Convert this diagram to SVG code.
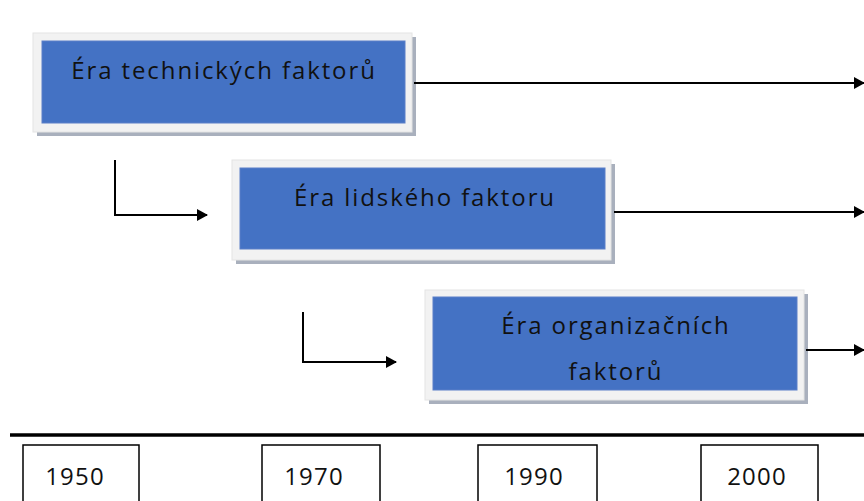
<svg xmlns="http://www.w3.org/2000/svg" width="864" height="501" viewBox="0 0 864 501">
<defs>
<marker id="ah" markerWidth="11" markerHeight="12" refX="10" refY="6" orient="auto" markerUnits="userSpaceOnUse">
<path d="M0,0 L11,6 L0,12 Z" fill="#000"/>
</marker>
<style>
.frame{fill:#f2f2f2;stroke:#e4e4e4;stroke-width:1}
.shadow{fill:#a9b0bd}
.blue{fill:#4472c4;stroke:#5a7fc8;stroke-width:1}
.lbl{font-family:"Open Sans","Noto Sans",sans-serif;font-size:24px;letter-spacing:1.9px;fill:#111;text-anchor:middle}
.yr{font-family:"Open Sans","Noto Sans",sans-serif;font-size:24px;letter-spacing:1.2px;fill:#111;text-anchor:middle}
.conn{fill:none;stroke:#000;stroke-width:2}
.ybox{fill:#fff;stroke:#000;stroke-width:1.5}
</style>
</defs>
<rect width="864" height="501" fill="#fff"/>
<g id="node-tech">
<rect class="shadow" x="37" y="37" width="379" height="99"/>
<rect class="frame" x="33" y="33" width="379" height="99"/>
<rect class="blue" x="42" y="41" width="363" height="82"/>
<text class="lbl" x="224" y="79">Éra technických faktorů</text>
</g>
<g id="node-lidsky">
<rect class="shadow" x="236" y="164" width="379" height="100"/>
<rect class="frame" x="232" y="160" width="379" height="100"/>
<rect class="blue" x="240" y="168" width="365" height="81"/>
<text class="lbl" x="425" y="206">Éra lidského faktoru</text>
</g>
<g id="node-org">
<rect class="shadow" x="429" y="294" width="379" height="110"/>
<rect class="frame" x="425" y="290" width="379" height="110"/>
<rect class="blue" x="433" y="297" width="364" height="93"/>
<text class="lbl" x="616" y="334">Éra organizačních</text>
<text class="lbl" x="616" y="380">faktorů</text>
</g>
<g id="connectors">
<line class="conn" x1="414" y1="83" x2="864" y2="83" marker-end="url(#ah)"/>
<line class="conn" x1="614" y1="212" x2="864" y2="212" marker-end="url(#ah)"/>
<line class="conn" x1="806" y1="350" x2="864" y2="350" marker-end="url(#ah)"/>
<polyline class="conn" points="115,160 115,215 207,215" marker-end="url(#ah)"/>
<polyline class="conn" points="303,312 303,362 396,362" marker-end="url(#ah)"/>
</g>
<g id="timeline">
<line x1="10" y1="435" x2="864" y2="435" stroke="#000" stroke-width="3.5"/>
</g>
<g id="year-1950">
<rect class="ybox" x="23" y="445" width="116" height="70"/>
<text class="yr" x="75" y="485">1950</text>
</g>
<g id="year-1970">
<rect class="ybox" x="262" y="445" width="118" height="70"/>
<text class="yr" x="314" y="485">1970</text>
</g>
<g id="year-1990">
<rect class="ybox" x="478" y="445" width="119" height="70"/>
<text class="yr" x="534" y="485">1990</text>
</g>
<g id="year-2000">
<rect class="ybox" x="701" y="445" width="117" height="70"/>
<text class="yr" x="757" y="485">2000</text>
</g>
</svg>
